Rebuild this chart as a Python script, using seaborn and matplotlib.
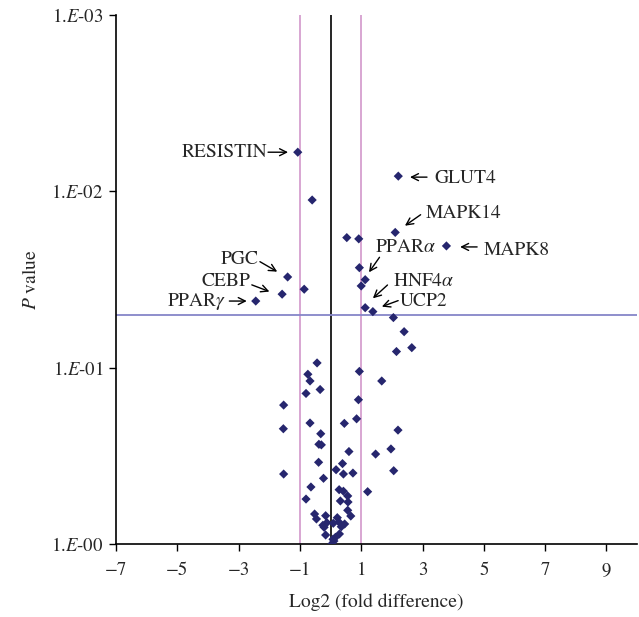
import numpy as np
import pandas as pd
import matplotlib
matplotlib.use('Agg')
import matplotlib.pyplot as plt
import seaborn as sns

# log2 fold difference and P value for each gene
log2_fc = [-1.07, -0.60, 0.53, 2.21, 2.11, 0.92, 3.78, 0.94, 1.13, 1.00, 1.13, 1.38,
           -1.40, -0.86, -1.58, -2.44,
           2.05, 2.40, 2.15, 2.65, 1.67, 2.20, 1.97, 2.06,
           -0.44, -0.74, 0.94, -0.67, -0.80, -0.34, -1.53, 0.91, 0.85, -1.54,
           -0.67, 0.45, -0.32, -0.38, -0.30, 0.60, 1.47, -0.39, 0.39, 0.18,
           0.42, 0.73, -1.53, -0.23, -0.64, 0.28, 0.42, 1.21, 0.56, -0.80,
           0.32, 0.57, 0.56, -0.52, 0.66, -0.16, -0.46, 0.22, -0.12, 0.09,
           0.27, 0.46, -0.25, 0.35, -0.21, 0.29, -0.16, 0.16, 0.08, 0.04, 0.11]
p_values = [0.0060, 0.0112, 0.0183, 0.0082, 0.0171, 0.0186, 0.0204, 0.0271, 0.0317, 0.0344, 0.0457, 0.0481,
            0.0306, 0.0359, 0.0383, 0.0419,
            0.052, 0.0625, 0.081, 0.077, 0.119, 0.226, 0.289, 0.384,
            0.094, 0.109, 0.105, 0.119, 0.140, 0.133, 0.163, 0.152, 0.195, 0.222,
            0.206, 0.207, 0.237, 0.272, 0.274, 0.299, 0.309, 0.344, 0.350, 0.379,
            0.401, 0.396, 0.401, 0.424, 0.475, 0.492, 0.502, 0.505, 0.534, 0.556,
            0.570, 0.578, 0.644, 0.676, 0.694, 0.691, 0.721, 0.709, 0.757, 0.763,
            0.750, 0.770, 0.783, 0.798, 0.804, 0.877, 0.889, 0.916, 0.940, 1.0, 0.962]

# labelled genes -> index of their point
gene_labels = ['RESISTIN', 'GLUT4', 'MAPK14', 'MAPK8', r'PPAR$\alpha$', r'HNF4$\alpha$',
               'UCP2', 'PGC', 'CEBP', r'PPAR$\gamma$']
gene_index = [0, 3, 4, 6, 8, 10, 11, 12, 14, 15]

fc_cut = [-1, 1]
p_cut = 0.05

df = pd.DataFrame({'log2fc': log2_fc, 'p': p_values})

sns.set_style('white')
plt.rcParams['font.family'] = ['STIXGeneral', 'DejaVu Serif']
plt.rcParams['mathtext.fontset'] = 'stix'

fig = plt.figure(figsize=(6.39, 6.17), dpi=100)
ax = fig.add_axes([0.1815, 0.1183, 0.8155, 0.8574])

# cut-off lines
for v in fc_cut:
    ax.axvline(v, color='#d59fcf', lw=1.3, zorder=1)
ax.axvline(0, color='black', lw=1.2, zorder=1)
ax.axhline(p_cut, color='#8686c8', lw=1.3, zorder=1)

sns.scatterplot(data=df, x='log2fc', y='p', marker='D', s=22, color='#26266e',
                edgecolor='none', ax=ax, zorder=3)

ax.set_yscale('log')
ax.set_ylim(1, 1e-3)
ax.set_xlim(-7, 10)
xt = np.arange(-7, 10, 2)
ax.set_xticks(xt)
ax.set_xticklabels([str(t).replace('-', '\u2212') for t in xt])
ax.set_yticks([1, 0.1, 0.01, 0.001])
ax.set_yticklabels([r'1.$\it{E}$-00', r'1.$\it{E}$-01', r'1.$\it{E}$-02', r'1.$\it{E}$-03'])
ax.yaxis.set_minor_locator(matplotlib.ticker.NullLocator())
ax.tick_params(axis='both', which='major', direction='out', length=5, width=1,
               color='black', labelsize=13.5, bottom=True, left=True)
ax.tick_params(axis='x', pad=8)
ax.tick_params(axis='y', pad=4)
for s in ['top', 'right']:
    ax.spines[s].set_visible(False)
for s in ['left', 'bottom']:
    ax.spines[s].set_color('black')
    ax.spines[s].set_linewidth(1.2)

ax.set_xlabel('Log2 (fold difference)', fontsize=14, labelpad=10)
ax.set_ylabel(r'$P$ value', fontsize=14, labelpad=8)

# text anchor / arrow start / arrow end, pixel offsets from point (x right, y down)
offsets = {
    'RESISTIN': ((-30.7, 0), 'right', (-29.7, 0), (-9.7, 0)),
    'GLUT4': ((35.7, 2), 'left', (28.7, 1), (11.7, 1)),
    'MAPK14': ((30.7, -18.7), 'left', (25.4, -17.7), (9.7, -6.7)),
    'MAPK8': ((37.7, 4), 'left', (30.7, 1), (13.7, 1)),
    r'PPAR$\alpha$': ((10, -32.7), 'left', (14.3, -22.4), (3.8, -7.4)),
    r'HNF4$\alpha$': ((27.7, -26), 'left', (22.3, -22.7), (7.7, -9.4)),
    'UCP2': ((27.3, -9.7), 'left', (25.3, -11), (9, -5)),
    'PGC': ((-28.7, -18), 'right', (-27.7, -15.3), (-10.4, -5.3)),
    'CEBP': ((-32, -12.6), 'right', (-30.3, -9.3), (-12.7, -2.6)),
    r'PPAR$\gamma$': ((-29, 0), 'right', (-26.4, 0), (-9, 0)),
}
for lab, i in zip(gene_labels, gene_index):
    xy = (log2_fc[i], p_values[i])
    (tx, ty), ha, (sx, sy), (ex, ey) = offsets[lab]
    ax.annotate(lab, xy=xy, xytext=(tx, -ty), textcoords='offset pixels',
                ha=ha, va='center', fontsize=14, zorder=4)
    px, py = ax.transData.transform(xy)
    ax.annotate('', xy=(px + ex, py - ey), xycoords='figure pixels',
                xytext=(px + sx, py - sy), textcoords='figure pixels',
                arrowprops=dict(arrowstyle='->,head_length=0.5,head_width=0.25', color='black',
                                lw=1.0, shrinkA=0, shrinkB=0))

fig.savefig('out.png', dpi=100)
